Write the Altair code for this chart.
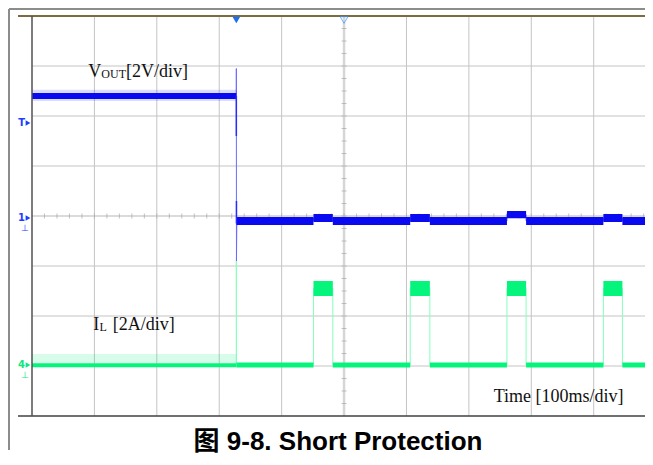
import altair as alt
import pandas as pd

W, H = 613, 400          # plot area (graticule) in px
T_MAX = 982.2            # visible time span, ms (100 ms/div)

# ---------------- graticule ----------------
grid_t = [100, 200, 300, 400, 600, 700, 800, 900]
grid_div = [-3, -2, -1, 1, 2, 3]
center_t = [500]
center_div = [0]

# ---------------- VOUT trace (V, 2 V/div, ground on centre line) ----------------
vout_t = [0, 327.4, 327.4, 327.6, 328.2, 451, 451, 482, 482, 606, 606, 637.5, 637.5,
          761, 761, 791.7, 791.7, 915.5, 915.5, 946, 946, 982.2]
vout_v = [4.8, 4.8, 5.9, -1.8, -0.2, -0.2, -0.08, -0.08, -0.2, -0.2, -0.08, -0.08, -0.2,
          -0.2, 0.055, 0.055, -0.2, -0.2, -0.08, -0.08, -0.2, -0.2]
# noise envelope of VOUT
band_t0 = [0, 327.6, 451, 482, 606, 637.5, 761, 791.7, 915.5, 946]
band_t1 = [327.4, 451, 482, 606, 637.5, 761, 791.7, 915.5, 946, 982.2]
vout_lo = [4.68, -0.36, -0.24, -0.36, -0.24, -0.36, -0.09, -0.36, -0.24, -0.36]
vout_hi = [4.92, -0.04, 0.08, -0.04, 0.08, -0.04, 0.2, -0.04, 0.08, -0.04]
spk_t = [0, 327.4]
vout_spk_lo = [4.6, 4.6]
vout_spk_hi = [5.05, 5.05]
# fast edge of VOUT right after the short (V)
vout_edge_t = [327.4, 327.6]
vout_edge_lo = [3.2, -0.3]
vout_edge_hi = [4.8, 0.6]

# ---------------- IL trace (A, 2 A/div, ground 3 div below centre) ----------------
il_t = [0, 327.4, 327.4, 327.6, 451, 451, 482, 482, 606, 606, 637.5, 637.5,
        761, 761, 791.7, 791.7, 915.5, 915.5, 946, 946, 982.2]
il_a = [0.03, 0.03, 4.2, 0.03, 0.03, 3.1, 3.1, 0.03, 0.03, 3.1, 3.1, 0.03,
        0.03, 3.1, 3.1, 0.03, 0.03, 3.1, 3.1, 0.03, 0.03]
il_lo = [-0.05, -0.06, 2.8, -0.06, 2.8, -0.06, 2.8, -0.06, 2.8, -0.06]
il_hi = [0.11, 0.14, 3.4, 0.14, 3.4, 0.14, 3.4, 0.14, 3.4, 0.14]
il_spk_lo = [0.1, 0.1]
il_spk_hi = [0.48, 0.48]

# ---------------- markers / labels ----------------
mk_label = ["T", "1", "4"]
mk_div = [1.86, -0.04, -2.98]
mk_color = ["#1f3cff", "#1f3cff", "#14e67c"]
gnd_div = [-0.24, -3.18]
gnd_color = ["#1f3cff", "#14e67c"]
trig_t = [327.4]
center_marker_t = [500]

vout_lbl = {"t": 90.2, "d": 2.786}
il_lbl = {"t": 98.2, "d": -2.28}
time_lbl = {"t": 739.8, "d": -3.714}

BLUE = "#0a0af0"
BLUE_THIN = "#6a6aff"
GREEN = "#05f57c"
GREEN_THIN = "#86ffbd"

xs = alt.Scale(domain=[0, T_MAX], nice=False, zero=False)
ys = alt.Scale(domain=[-4, 4], nice=False, zero=False)
SERIF = "Liberation Serif"

one = pd.DataFrame({"k": [0]})

# grid
g_v = alt.Chart(pd.DataFrame({"t": grid_t})).mark_rule(color="#c4c4c4", strokeWidth=1).encode(
    x=alt.X("t:Q", scale=xs, axis=None), y=alt.value(0), y2=alt.value(H))
g_h = alt.Chart(pd.DataFrame({"d": grid_div})).mark_rule(color="#c4c4c4", strokeWidth=1).encode(
    y=alt.Y("d:Q", scale=ys, axis=None), x=alt.value(0), x2=alt.value(W))
c_v = alt.Chart(pd.DataFrame({"t": center_t})).mark_rule(color="#d6d6d6", strokeWidth=2.5).encode(
    x=alt.X("t:Q", scale=xs, axis=None), y=alt.value(0), y2=alt.value(H))
c_h = alt.Chart(pd.DataFrame({"d": center_div})).mark_rule(color="#cfcfcf", strokeWidth=1.5).encode(
    y=alt.Y("d:Q", scale=ys, axis=None), x=alt.value(0), x2=alt.value(W))
tk_v = alt.Chart(alt.sequence(-3.75, 4.0, 0.25, as_="d")).transform_calculate(t="500").mark_tick(
    orient="horizontal", size=5, thickness=1, color="#a8a8a8").encode(
    x=alt.X("t:Q", scale=xs, axis=None), y=alt.Y("d:Q", scale=ys, axis=None))
tk_h = alt.Chart(alt.sequence(20, 982, 20, as_="t")).transform_calculate(d="0").mark_tick(
    orient="vertical", size=5, thickness=1, color="#a8a8a8").encode(
    x=alt.X("t:Q", scale=xs, axis=None), y=alt.Y("d:Q", scale=ys, axis=None))

# frame lines
top_line = alt.Chart(one).mark_rule(color="#7d6a42", strokeWidth=2).encode(
    x=alt.value(-14), x2=alt.value(W), y=alt.value(0))
bot_line = alt.Chart(one).mark_rule(color="#404040", strokeWidth=1.5).encode(
    x=alt.value(-14), x2=alt.value(W), y=alt.value(H))
left_line = alt.Chart(one).mark_rule(color="#505050", strokeWidth=1.5).encode(
    x=alt.value(0), y=alt.value(0), y2=alt.value(H))
outer_top = alt.Chart(one).mark_rule(color="#8c8c8c", strokeWidth=2).encode(
    x=alt.value(-23), x2=alt.value(W), y=alt.value(-7))
outer_left = alt.Chart(one).mark_rule(color="#8c8c8c", strokeWidth=2).encode(
    x=alt.value(-23), y=alt.value(-7), y2=alt.value(H + 34))

# traces
vdf = pd.DataFrame({"t": vout_t, "v": vout_v, "i": range(len(vout_t))})
idf = pd.DataFrame({"t": il_t, "a": il_a, "i": range(len(il_t))})
vband = pd.DataFrame({"t0": band_t0, "t1": band_t1, "lo": vout_lo, "hi": vout_hi})
iband = pd.DataFrame({"t0": band_t0, "t1": band_t1, "lo": il_lo, "hi": il_hi})
vspk = pd.DataFrame({"t0": [spk_t[0]], "t1": [spk_t[1]], "lo": [vout_spk_lo[0]], "hi": [vout_spk_hi[0]]})
ispk = pd.DataFrame({"t0": [spk_t[0]], "t1": [spk_t[1]], "lo": [il_spk_lo[0]], "hi": [il_spk_hi[0]]})
vedge = pd.DataFrame({"t": vout_edge_t, "lo": vout_edge_lo, "hi": vout_edge_hi})


def band(df, expr_lo, expr_hi, color, opacity=1.0):
    return alt.Chart(df).transform_calculate(y0=expr_lo, y1=expr_hi).mark_rect(
        color=color, opacity=opacity).encode(
        x=alt.X("t0:Q", scale=xs, axis=None), x2="t1:Q",
        y=alt.Y("y0:Q", scale=ys, axis=None), y2="y1:Q")


il_line = alt.Chart(idf).transform_calculate(p="datum.a/2 - 3").mark_line(
    color=GREEN_THIN, strokeWidth=1, interpolate="linear").encode(
    x=alt.X("t:Q", scale=xs, axis=None), y=alt.Y("p:Q", scale=ys, axis=None), order="i:Q")
il_spk = band(ispk, "datum.lo/2 - 3", "datum.hi/2 - 3", GREEN, 0.16)
il_band = band(iband, "datum.lo/2 - 3", "datum.hi/2 - 3", GREEN)

v_line = alt.Chart(vdf).transform_calculate(p="datum.v/2").mark_line(
    color=BLUE_THIN, strokeWidth=1, interpolate="linear").encode(
    x=alt.X("t:Q", scale=xs, axis=None), y=alt.Y("p:Q", scale=ys, axis=None), order="i:Q")
v_spk = band(vspk, "datum.lo/2", "datum.hi/2", BLUE, 0.14)
v_band = band(vband, "datum.lo/2", "datum.hi/2", BLUE)
v_edge = alt.Chart(vedge).transform_calculate(y0="datum.lo/2", y1="datum.hi/2").mark_rule(
    color="#2a2aff", strokeWidth=1.5).encode(
    x=alt.X("t:Q", scale=xs, axis=None), y=alt.Y("y0:Q", scale=ys, axis=None), y2="y1:Q")

# top markers
trig = alt.Chart(pd.DataFrame({"t": trig_t})).mark_point(
    shape="triangle-down", filled=True, size=60, color="#1e6ff0", opacity=1).encode(
    x=alt.X("t:Q", scale=xs, axis=None), y=alt.value(4))
cmark = alt.Chart(pd.DataFrame({"t": center_marker_t})).mark_point(
    shape="triangle-down", filled=False, size=60, color="#3d95ff", strokeWidth=1).encode(
    x=alt.X("t:Q", scale=xs, axis=None), y=alt.value(4))

# left channel markers
mk = pd.DataFrame({"lab": mk_label, "d": mk_div, "c": mk_color})
mk_text = alt.Chart(mk).mark_text(font="DejaVu Sans", fontSize=10, fontWeight="bold",
                                  align="right", baseline="middle").encode(
    x=alt.value(-7), y=alt.Y("d:Q", scale=ys, axis=None), text="lab:N", color=alt.Color("c:N", scale=None))
mk_tri = alt.Chart(mk).mark_point(shape="triangle-right", filled=True, size=30, opacity=1).encode(
    x=alt.value(-4), y=alt.Y("d:Q", scale=ys, axis=None), color=alt.Color("c:N", scale=None))
gnd = pd.DataFrame({"d": gnd_div, "c": gnd_color, "s": ["⊥", "⊥"]})
gnd_text = alt.Chart(gnd).mark_text(font="DejaVu Sans", fontSize=9, align="center", baseline="middle").encode(
    x=alt.value(-7), y=alt.Y("d:Q", scale=ys, axis=None), text="s:N", color=alt.Color("c:N", scale=None))


def label(pos, txt, size, dx=0, dy=0):
    return alt.Chart(pd.DataFrame({"t": [pos["t"]], "d": [pos["d"]], "s": [txt]})).mark_text(
        font=SERIF, fontSize=size, align="left", baseline="alphabetic", color="#111111",
        dx=dx, dy=dy).encode(
        x=alt.X("t:Q", scale=xs, axis=None), y=alt.Y("d:Q", scale=ys, axis=None), text="s:N")


labels = [
    label(vout_lbl, "V", 18),
    label(vout_lbl, "OUT", 12, dx=13, dy=1),
    label(vout_lbl, "[2V/div]", 18, dx=37.7),
    label(il_lbl, "I", 18),
    label(il_lbl, "L", 12, dx=6.2, dy=1),
    label(il_lbl, "[2A/div]", 18, dx=19.4),
    label(time_lbl, "Time [100ms/div]", 18),
]

caption = alt.Chart(one).mark_text(
    font="Liberation Sans, Noto Sans CJK SC", fontSize=26, fontWeight="bold",
    align="center", baseline="alphabetic", color="#000000").encode(
    x=alt.value(306), y=alt.value(434), text=alt.value("图 9-8. Short Protection"))

chart = alt.layer(
    g_v, g_h, c_v, c_h, tk_v, tk_h,
    il_line, il_spk, il_band,
    v_line, v_spk, v_band, v_edge,
    top_line, bot_line, left_line, outer_top, outer_left,
    trig, cmark, mk_text, mk_tri, gnd_text,
    *labels, caption,
).properties(
    width=W, height=H,
    padding={"left": 24, "top": 8, "right": 0, "bottom": 41},
    autosize=alt.AutoSizeParams(type="none"),
).configure_view(stroke=None)

chart.save("out.html", embed_options={"renderer": "svg", "actions": False})
